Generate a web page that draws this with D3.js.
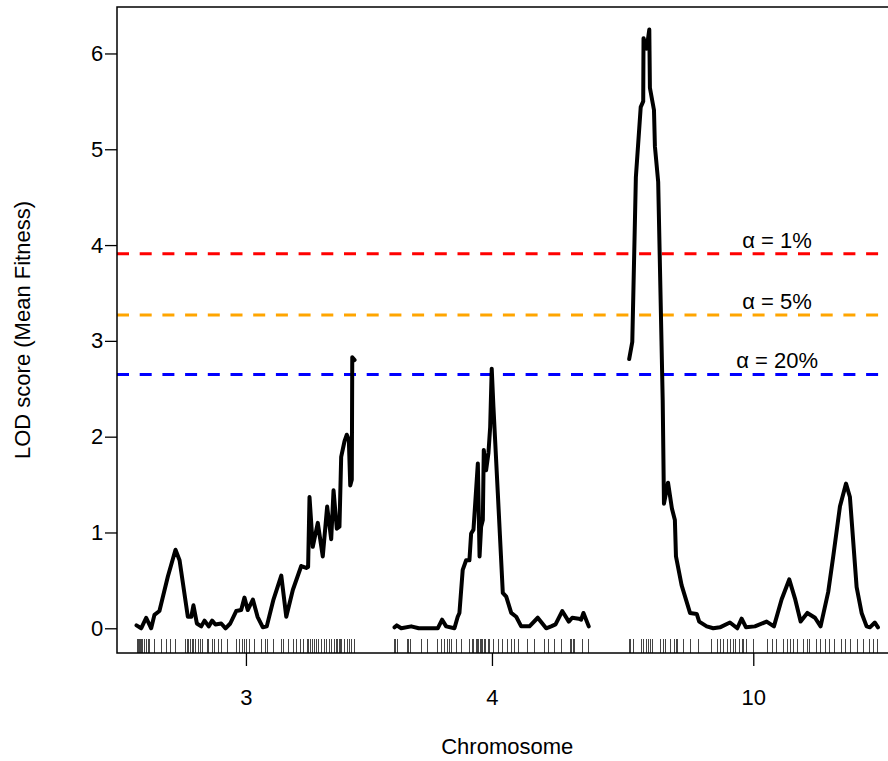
<!DOCTYPE html>
<html>
<head>
<meta charset="utf-8">
<script src="https://cdn.jsdelivr.net/npm/d3@7"></script>
<style>
  body { margin: 0; background: #fff; }
  svg text { font-family: "Liberation Sans", Arial, Helvetica, sans-serif; }
</style>
</head>
<body>
<svg id="lod" width="888" height="761"></svg>
<script>
// chromosome names and lengths (cM)
const chrNames = ["3", "4", "10"];
const chrLengths = [140.3, 125.1, 159.9];
const gap = 25;

// LOD profiles, position (cM) / LOD
const chr3Pos = [0, 3.0, 6.2, 9.4, 11.5, 14.7, 20.1, 25.0, 27.6, 32.9, 35.1, 36.5, 38.7, 41.5, 43.6, 46.3, 48.5, 50.6, 54.3, 57.1, 60.1, 63.9, 67.1, 69.2, 71.3, 74.6, 77.6, 81.0, 83.5, 87.8, 92.8, 96.0, 100.2, 105.6, 108.8, 110.0, 110.9, 113.0, 116.2, 119.4, 122.2, 124.8, 126.3, 128.4, 130.1, 131.2, 133.3, 134.8, 136.1, 137.0, 138.0, 138.3, 139.8];
const chr3Lod = [0.03, 0.00, 0.11, 0.00, 0.14, 0.18, 0.54, 0.82, 0.71, 0.12, 0.12, 0.24, 0.05, 0.02, 0.08, 0.02, 0.08, 0.04, 0.05, 0.00, 0.05, 0.18, 0.19, 0.32, 0.19, 0.30, 0.12, 0.01, 0.02, 0.30, 0.55, 0.12, 0.40, 0.65, 0.63, 0.64, 1.37, 0.85, 1.10, 0.75, 1.27, 0.93, 1.44, 1.04, 1.06, 1.79, 1.95, 2.02, 1.97, 1.49, 1.55, 2.83, 2.80];

const chr4Pos = [0.1, 1.5, 4.4, 10.8, 15.6, 27.8, 30.6, 33.2, 38.5, 40.6, 41.7, 43.8, 46.0, 48.1, 49.2, 50.7, 53.5, 54.6, 55.6, 56.7, 57.3, 58.8, 60.3, 61.4, 62.4, 63.5, 66.3, 69.5, 71.7, 74.9, 78.1, 81.3, 86.6, 91.9, 97.3, 100.5, 103.3, 107.6, 111.8, 114.0, 118.2, 119.7, 121.2, 124.6];
const chr4Lod = [0.01, 0.03, 0.00, 0.02, 0.00, 0.00, 0.09, 0.02, 0.00, 0.12, 0.16, 0.61, 0.71, 0.71, 0.99, 1.03, 1.72, 0.75, 1.06, 1.13, 1.86, 1.65, 1.83, 2.10, 2.71, 2.31, 1.41, 0.37, 0.33, 0.16, 0.12, 0.02, 0.02, 0.11, 0.00, 0.02, 0.04, 0.18, 0.07, 0.11, 0.10, 0.09, 0.16, 0.02];

const chr10Pos = [0.4, 2.4, 4.7, 7.8, 9.4, 9.6, 11.6, 13.3, 13.7, 16.3, 16.9, 19.0, 21.9, 22.7, 25.3, 27.8, 29.7, 30.4, 34.0, 39.4, 43.7, 45.3, 50.1, 54.3, 58.6, 65.0, 69.7, 72.5, 75.3, 81.0, 88.5, 93.2, 98.1, 103.0, 106.7, 110.3, 114.6, 119.5, 123.1, 128.0, 131.2, 135.5, 139.4, 141.9, 146.2, 149.4, 152.6, 154.7, 157.9, 159.9];
const chr10Lod = [2.81, 2.99, 4.71, 5.44, 5.50, 6.16, 6.05, 6.25, 5.64, 5.41, 5.03, 4.66, 2.38, 1.30, 1.52, 1.25, 1.13, 0.75, 0.45, 0.16, 0.15, 0.07, 0.02, 0.00, 0.01, 0.06, 0.00, 0.10, 0.01, 0.02, 0.07, 0.02, 0.30, 0.51, 0.31, 0.07, 0.16, 0.11, 0.02, 0.38, 0.75, 1.27, 1.51, 1.37, 0.43, 0.16, 0.02, 0.01, 0.06, 0.01];

// marker positions (cM)
const chr3Markers = [0, 0.4, 1.1, 1.7, 2.4, 3.0, 3.7, 5.1, 6.2, 7.2, 8.3, 10.9, 15.8, 19.0, 21.6, 24.4, 31.4, 32.3, 33.1, 34.0, 35.5, 36.5, 37.6, 39.3, 40.8, 42.1, 45.0, 45.9, 48.5, 49.4, 52.1, 54.3, 57.9, 63.5, 66.0, 67.8, 68.6, 70.3, 72.4, 75.6, 79.9, 82.1, 83.5, 87.4, 92.8, 94.2, 97.0, 100.2, 102.4, 104.9, 106.6, 109.2, 110.1, 111.3, 112.6, 113.7, 115.2, 116.5, 118.4, 119.9, 121.6, 123.3, 124.8, 126.3, 127.6, 128.8, 129.7, 130.6, 131.4, 133.3, 134.8, 136.5, 137.6, 139.1];
const chr4Markers = [0, 0.7, 1.5, 8.0, 8.9, 9.7, 16.9, 20.8, 27.2, 29.8, 31.9, 33.6, 35.2, 36.2, 39.4, 42.6, 48.0, 49.5, 50.7, 52.0, 52.9, 53.8, 54.6, 55.4, 56.3, 57.2, 58.4, 59.7, 60.8, 63.5, 66.5, 69.3, 72.5, 74.6, 76.8, 79.4, 85.3, 89.6, 95.6, 98.6, 102.4, 106.7, 112.7, 113.5, 114.4, 115.3, 120.0, 123.8];
const chr10Markers = [0, 0.9, 2.6, 7.8, 9.4, 11.2, 12.7, 13.7, 14.8, 20.1, 21.8, 23.3, 26.5, 29.1, 30.4, 31.2, 35.1, 39.4, 44.7, 52.6, 56.5, 58.6, 60.7, 62.9, 65.0, 67.1, 68.2, 70.9, 72.5, 73.5, 75.3, 79.6, 88.5, 91.7, 94.5, 98.8, 101.3, 103.5, 105.6, 107.8, 111.6, 114.2, 115.9, 120.2, 122.7, 125.9, 128.7, 131.7, 136.0, 138.8, 142.0, 146.7, 150.5, 154.4, 157.0, 159.4];

// permutation thresholds
const alphaLabels = ["1%", "5%", "20%"];
const alphaLod = [3.91, 3.27, 2.65];
const alphaColors = ["#ff0000", "#ffa500", "#0000ff"];

const yTicks = [0, 1, 2, 3, 4, 5, 6];

const svg = d3.select("svg#lod");
const plot = {left: 117, right: 897.5, top: 7, bottom: 653};
const fs = 22;

// chromosome start offsets on the combined axis
const offsets = [];
let acc = 0;
chrLengths.forEach((len, i) => { offsets.push(acc); acc += len + gap; });
const total = acc - gap;

const x = d3.scaleLinear()
  .domain([-gap / 2, total + gap / 2])
  .range([plot.left, plot.right]);
const y = d3.scaleLinear()
  .domain([-0.258, 6.485])
  .range([plot.bottom, plot.top]);

const chroms = [
  {pos: chr3Pos, lod: chr3Lod, markers: chr3Markers},
  {pos: chr4Pos, lod: chr4Lod, markers: chr4Markers},
  {pos: chr10Pos, lod: chr10Lod, markers: chr10Markers}
];

// threshold lines
const thr = svg.append("g").attr("id", "thresholds");
alphaLod.forEach((v, i) => {
  thr.append("line")
    .attr("x1", plot.left).attr("x2", plot.right)
    .attr("y1", y(v)).attr("y2", y(v))
    .attr("stroke", alphaColors[i])
    .attr("stroke-width", 3)
    .attr("stroke-dasharray", "12,10.7");
  thr.append("text")
    .attr("x", x(410.6))
    .attr("y", y(v) - 6)
    .attr("text-anchor", "middle")
    .attr("font-size", fs)
    .attr("fill", "#000")
    .text(`\u03b1 = ${alphaLabels[i]}`);
});

// LOD curves
const line = d3.line().x(d => d[0]).y(d => d[1]);
chroms.forEach((c, i) => {
  const pts = c.pos.map((p, j) => [x(offsets[i] + p), y(c.lod[j])]);
  svg.append("path")
    .attr("d", line(pts))
    .attr("fill", "none")
    .attr("stroke", "#000")
    .attr("stroke-width", 4)
    .attr("stroke-linejoin", "round")
    .attr("stroke-linecap", "round");

  // rug of markers
  svg.append("g")
    .selectAll("line")
    .data(c.markers)
    .join("line")
      .attr("x1", d => Math.round(x(offsets[i] + d)) + 0.5)
      .attr("x2", d => Math.round(x(offsets[i] + d)) + 0.5)
      .attr("y1", 639)
      .attr("y2", plot.bottom)
      .attr("stroke", "#444")
      .attr("stroke-width", 1);
});

// box
svg.append("rect")
  .attr("x", plot.left).attr("y", plot.top)
  .attr("width", plot.right - plot.left)
  .attr("height", plot.bottom - plot.top)
  .attr("fill", "none")
  .attr("stroke", "#000")
  .attr("stroke-width", 1.5);

// y axis
const yAxis = svg.append("g")
  .attr("transform", `translate(${plot.left},0)`)
  .call(d3.axisLeft(y).tickValues(yTicks).tickSize(12).tickPadding(8).tickFormat(d3.format("d")));
yAxis.select(".domain").remove();
yAxis.selectAll("line").attr("stroke-width", 1.3);
yAxis.selectAll("text").attr("font-size", fs).attr("text-anchor", "middle").attr("x", -20).attr("font-family", null);

// x axis, one tick per chromosome midpoint
const xAxis = svg.append("g")
  .attr("transform", `translate(0,${plot.bottom})`)
  .call(d3.axisBottom(x)
    .tickValues(chrLengths.map((len, i) => offsets[i] + len / 2))
    .tickSize(13).tickPadding(23)
    .tickFormat((d, i) => chrNames[i]));
xAxis.select(".domain").remove();
xAxis.selectAll("line").attr("stroke-width", 1.3);
xAxis.selectAll("text").attr("font-size", fs).attr("font-family", null);

// axis titles
svg.append("text")
  .attr("x", (plot.left + plot.right) / 2)
  .attr("y", 754)
  .attr("text-anchor", "middle")
  .attr("font-size", fs)
  .text("Chromosome");

svg.append("text")
  .attr("transform", `translate(30,${(plot.top + plot.bottom) / 2}) rotate(-90)`)
  .attr("text-anchor", "middle")
  .attr("font-size", fs)
  .text("LOD score (Mean Fitness)");
</script>
</body>
</html>
